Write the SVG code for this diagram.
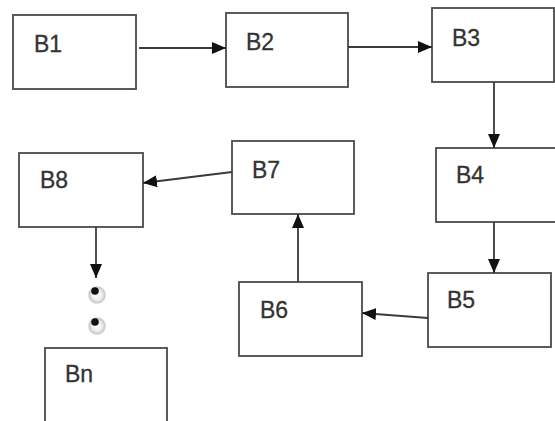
<svg xmlns="http://www.w3.org/2000/svg" width="555" height="421" viewBox="0 0 555 421">
  <style>
    .box { fill: #ffffff; stroke: #4a4a4a; stroke-width: 1.8; }
    .lbl { font-family: "Liberation Sans", Arial, sans-serif; font-size: 23px; fill: #333333; stroke: #333333; stroke-width: 0.3; }
    .edge { stroke: #3a3a3a; stroke-width: 1.8; fill: none; marker-end: url(#head); }
  </style>
  <defs>
    <marker id="head" markerUnits="userSpaceOnUse" markerWidth="15" markerHeight="13" refX="14" refY="6" orient="auto">
      <path d="M0,0 L14,6 L0,12 Z" fill="#111111"/>
    </marker>
    <radialGradient id="halo" cx="0.5" cy="0.5" r="0.5">
      <stop offset="0" stop-color="#ffffff"/>
      <stop offset="0.5" stop-color="#eeeeee"/>
      <stop offset="0.8" stop-color="#c8c8c8"/>
      <stop offset="1" stop-color="#ffffff" stop-opacity="0"/>
    </radialGradient>
  </defs>
  <rect width="555" height="421" fill="#ffffff"/>

  <g id="B1"><rect class="box" x="13" y="15" width="123" height="74"/><text class="lbl" x="34" y="52">B1</text></g>
  <g id="B2"><rect class="box" x="226" y="13" width="122" height="74"/><text class="lbl" x="246" y="50">B2</text></g>
  <g id="B3"><rect class="box" x="432" y="8" width="122" height="74"/><text class="lbl" x="452" y="46">B3</text></g>
  <g id="B4"><rect class="box" x="436" y="148" width="122" height="74"/><text class="lbl" x="456" y="183">B4</text></g>
  <g id="B5"><rect class="box" x="428" y="273" width="123" height="74"/><text class="lbl" x="447" y="308">B5</text></g>
  <g id="B6"><rect class="box" x="239" y="282" width="123" height="74"/><text class="lbl" x="260" y="318">B6</text></g>
  <g id="B7"><rect class="box" x="232" y="141" width="122" height="73"/><text class="lbl" x="252" y="178">B7</text></g>
  <g id="B8"><rect class="box" x="19" y="153" width="124" height="74"/><text class="lbl" x="40" y="188">B8</text></g>
  <g id="Bn"><rect class="box" x="45" y="348" width="122" height="80"/><text class="lbl" x="65" y="382">Bn</text></g>

  <g id="ellipsis">
    <circle cx="97" cy="295" r="10" fill="url(#halo)"/>
    <circle cx="95" cy="291" r="3.8" fill="#111111"/>
    <circle cx="97" cy="326" r="10" fill="url(#halo)"/>
    <circle cx="95" cy="322" r="3.8" fill="#111111"/>
  </g>

  <g id="connectors">
    <line class="edge" x1="139" y1="48" x2="226" y2="48"/>
    <line class="edge" x1="348" y1="47" x2="432" y2="47"/>
    <line class="edge" x1="494" y1="82" x2="494" y2="148"/>
    <line class="edge" x1="494" y1="222" x2="494" y2="273"/>
    <line class="edge" x1="428" y1="318" x2="362" y2="313"/>
    <line class="edge" x1="298" y1="282" x2="298" y2="214"/>
    <line class="edge" x1="232" y1="172" x2="143" y2="183"/>
    <line class="edge" x1="96" y1="227" x2="96" y2="278"/>
  </g>
</svg>
